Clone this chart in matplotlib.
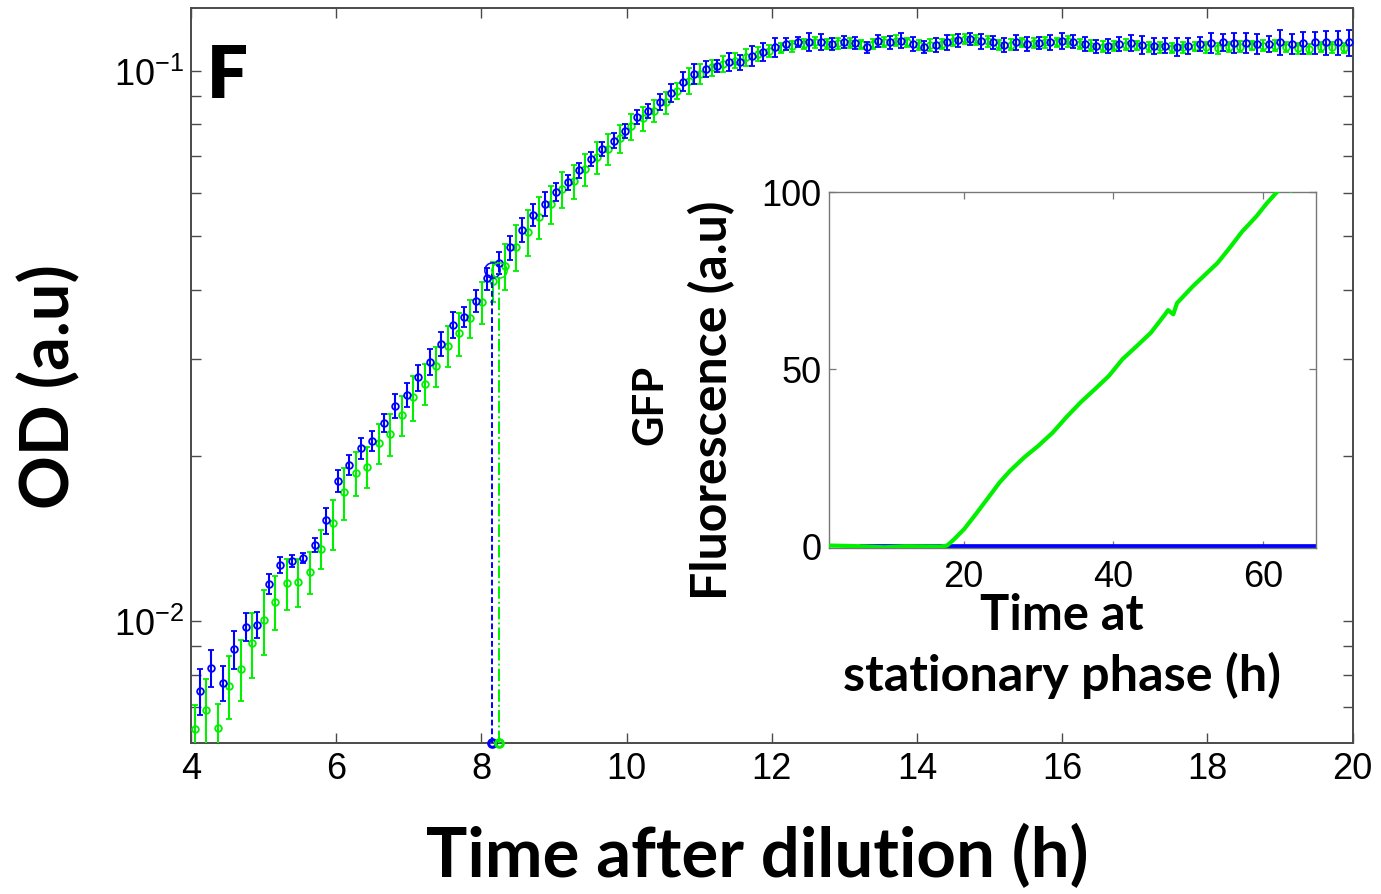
import numpy as np
import matplotlib
matplotlib.use("Agg")
import matplotlib.pyplot as plt
from matplotlib.ticker import LogLocator, NullFormatter, FixedLocator, FixedFormatter

plt.rcParams['font.family'] = ['Liberation Sans', 'DejaVu Sans']
plt.rcParams['mathtext.fontset'] = 'custom'
plt.rcParams['mathtext.rm'] = 'Liberation Sans'
plt.rcParams['mathtext.default'] = 'regular'

# ---------------- data ----------------
# sampling grid (h after dilution)
dt = 0.1583
blue_t0 = 4.125
green_t0 = 4.052

blue_od = [0.00748, 0.00823, 0.00773, 0.00891, 0.00978, 0.00986, 0.01169, 0.01267, 0.01287, 0.01301,
           0.01374, 0.01525, 0.01798, 0.01923, 0.02064, 0.02126, 0.02295, 0.02464, 0.02576, 0.02775,
           0.02962, 0.03189, 0.03453, 0.03575, 0.03818, 0.04197, 0.04474, 0.04778, 0.05143, 0.05468,
           0.05726, 0.06014, 0.06270, 0.06601, 0.06911, 0.07207, 0.07462, 0.07780, 0.08229, 0.08438,
           0.08761, 0.09099, 0.09550, 0.09862, 0.1007, 0.1021, 0.1036, 0.1036, 0.1065, 0.1083,
           0.1103, 0.1118, 0.1126, 0.1129, 0.1129, 0.1118, 0.1127, 0.1123, 0.1103, 0.1134,
           0.1126, 0.1134, 0.1118, 0.1106, 0.1115, 0.1126, 0.1137, 0.1142, 0.1131, 0.1126,
           0.1115, 0.1126, 0.1118, 0.1123, 0.1126, 0.1134, 0.1129, 0.1118, 0.1108, 0.1111,
           0.1118, 0.1123, 0.1115, 0.1111, 0.1111, 0.1106, 0.1111, 0.1118, 0.1122, 0.1126,
           0.1123, 0.1122, 0.1118, 0.1118, 0.1126, 0.1118, 0.1123, 0.1126, 0.1126, 0.1126, 0.1126]
blue_err = [0.00072, 0.00062, 0.00058, 0.00071, 0.00059, 0.00054, 0.00049, 0.00042, 0.00032, 0.00027,
            0.00040, 0.00083, 0.00083, 0.00080, 0.00091, 0.00089, 0.00086, 0.00124, 0.00129, 0.00151,
            0.00161, 0.00160, 0.00188, 0.00149, 0.00176, 0.00193, 0.00206, 0.00240, 0.00258, 0.00252,
            0.00287, 0.00226, 0.00209, 0.00207, 0.00202, 0.00211, 0.00234, 0.00228, 0.00241, 0.00247,
            0.00293, 0.00342, 0.00379, 0.00412, 0.00336, 0.00256, 0.00390, 0.00325, 0.00445, 0.00407,
            0.00438, 0.00281, 0.00235, 0.00425, 0.00377, 0.00281, 0.0028, 0.0028, 0.0026, 0.0028,
            0.0030, 0.0036, 0.0032, 0.0028, 0.0033, 0.0035, 0.0031, 0.0029, 0.0034, 0.0030,
            0.0033, 0.0036, 0.0032, 0.0030, 0.0034, 0.0037, 0.0031, 0.0033, 0.0030, 0.0032,
            0.0033, 0.0037, 0.0042, 0.0037, 0.0035, 0.0042, 0.0037, 0.0033, 0.0047, 0.0042,
            0.0047, 0.0047, 0.0047, 0.0037, 0.0059, 0.0047, 0.0052, 0.0052, 0.0056, 0.0056, 0.0061]

green_od = [0.00637, 0.00691, 0.00640, 0.00764, 0.00819, 0.00912, 0.01004, 0.01085, 0.01172, 0.01180,
            0.01227, 0.01353, 0.01507, 0.01715, 0.01859, 0.01906, 0.02108, 0.02189, 0.02372, 0.02551,
            0.02698, 0.02912, 0.03167, 0.03336, 0.03551, 0.03798, 0.04155, 0.04424, 0.04778, 0.05088,
            0.05416, 0.05726, 0.06097, 0.06297, 0.06628, 0.06961, 0.07207, 0.07537, 0.07925, 0.08195,
            0.08459, 0.08761, 0.09197, 0.09592, 0.09862, 0.1014, 0.1028, 0.1043, 0.1058, 0.1072,
            0.1087, 0.1099, 0.1107, 0.1118, 0.1126, 0.1118, 0.1123, 0.1123, 0.1118, 0.1118,
            0.1129, 0.1134, 0.1126, 0.1115, 0.1115, 0.1118, 0.1134, 0.1142, 0.1137, 0.1131,
            0.1115, 0.1115, 0.1126, 0.1123, 0.1126, 0.1126, 0.1131, 0.1118, 0.1111, 0.1106,
            0.1111, 0.1115, 0.1111, 0.1106, 0.1103, 0.1099, 0.1103, 0.1106, 0.1103, 0.1099,
            0.1103, 0.1106, 0.1111, 0.1111, 0.1111, 0.1106, 0.1099, 0.1095, 0.1106, 0.1103, 0.1099]
green_err = [0.00067, 0.00095, 0.00067, 0.00099, 0.00104, 0.00124, 0.00134, 0.00122, 0.00125, 0.00118,
             0.00108, 0.00110, 0.00157, 0.00186, 0.00171, 0.00163, 0.00176, 0.00192, 0.00198, 0.00240,
             0.00231, 0.00243, 0.00265, 0.00300, 0.00282, 0.00333, 0.00347, 0.00425, 0.00459, 0.00489,
             0.00476, 0.00455, 0.00459, 0.00448, 0.00443, 0.00466, 0.00452, 0.00441, 0.00430, 0.00411,
             0.00389, 0.00403, 0.00307, 0.00521, 0.00412, 0.00339, 0.00343, 0.00327, 0.00376, 0.00314,
             0.0026, 0.0024, 0.0027, 0.0023, 0.0025, 0.0022, 0.0026, 0.0024, 0.0021, 0.0025,
             0.0023, 0.0026, 0.0022, 0.0024, 0.0027, 0.0023, 0.0025, 0.0022, 0.0024, 0.0026,
             0.0023, 0.0025, 0.0022, 0.0024, 0.0026, 0.0023, 0.0025, 0.0022, 0.0024, 0.0026,
             0.0023, 0.0025, 0.0022, 0.0024, 0.0026, 0.0023, 0.0025, 0.0022, 0.0024, 0.0026,
             0.0023, 0.0025, 0.0022, 0.0024, 0.0026, 0.0023, 0.0025, 0.0022, 0.0024, 0.0026, 0.0023]

# time at which OD crosses the stationary threshold
thresh_od = 0.0434
blue_thresh_t = 8.143
green_thresh_t = 8.248

# inset: GFP fluorescence vs time at stationary phase
gfp_time = [2.1, 6.1, 9.4, 12.2, 16.9, 17.8, 18.7, 20.1, 21.5, 23.0, 24.8, 26.2, 28.1, 30.0, 31.9,
            33.7, 35.6, 37.5, 39.4, 41.2, 43.1, 45.0, 46.9, 47.3, 48.0, 48.5, 50.6, 52.5, 53.9,
            55.5, 57.2, 59.1, 60.5, 61.9, 63.0, 63.7, 64.5]
gfp_green = [0, -0.2, -0.5, -0.2, -0.3, 0, 1.7, 4.7, 8.5, 12.7, 17.8, 21.1, 24.9, 28.2, 31.9,
             36.2, 40.4, 44.1, 47.9, 52.6, 56.3, 60.1, 65.3, 66.5, 65.3, 68.5, 73.2, 77.0, 79.8,
             84.0, 88.7, 93.0, 96.7, 100.0, 101.5, 100.2, 102.5]
gfp_blue_time = [6.0, 67.0]
gfp_blue = [0.0, 0.0]

blue_t = blue_t0 + dt * np.arange(len(blue_od))
green_t = green_t0 + dt * np.arange(len(green_od))

BLUE = '#0000ff'
GREEN = '#00f000'
SPINE = '#4a4a4a'

W, H = 1381, 895
fig = plt.figure(figsize=(W / 100, H / 100), dpi=100)

# ---------------- main axes ----------------
ax = fig.add_axes([190.9 / W, 1 - 744 / H, (1352.5 - 190.9) / W, (744 - 9) / H])
ax.set_yscale('log')
ax.set_xlim(4, 20)
ax.set_ylim(0.00601, 0.130)

ax.errorbar(green_t, green_od, yerr=green_err, fmt='o', ms=4.8, mfc='none', mec=GREEN, mew=1.3,
            ecolor=GREEN, elinewidth=1.5, capsize=2.4, capthick=1.5, zorder=3)
ax.errorbar(blue_t, blue_od, yerr=blue_err, fmt='o', ms=4.8, mfc='none', mec=BLUE, mew=1.3,
            ecolor=BLUE, elinewidth=1.5, capsize=2.4, capthick=1.5, zorder=4)

ybot = ax.get_ylim()[0]
ax.plot([blue_thresh_t, blue_thresh_t], [ybot, thresh_od], ls=(0, (3, 1.5)), color=BLUE, lw=1.4, zorder=5)
ax.plot([green_thresh_t, green_thresh_t], [ybot, thresh_od], ls='-.', color=GREEN, lw=1.4, zorder=5)
ax.plot([blue_thresh_t], [thresh_od], 'o', ms=11, mfc='none', mec=BLUE, mew=1.1, zorder=6)
ax.plot([green_thresh_t], [thresh_od], 'o', ms=11, mfc='none', mec=GREEN, mew=1.1, zorder=6)
ax.plot([blue_thresh_t], [ybot], 'o', ms=5.5, mfc='none', mec=BLUE, mew=2.2, zorder=7, clip_on=False)
ax.plot([green_thresh_t], [ybot], 'o', ms=5.5, mfc='none', mec=GREEN, mew=2.2, zorder=7, clip_on=False)

ax.set_xticks([4, 6, 8, 10, 12, 14, 16, 18, 20])
ax.yaxis.set_major_locator(FixedLocator([0.01, 0.1]))
ax.yaxis.set_major_formatter(FixedFormatter([r'$10^{-2}$', r'$10^{-1}$']))
ax.yaxis.set_minor_locator(LogLocator(base=10, subs=np.arange(2, 10)))
ax.yaxis.set_minor_formatter(NullFormatter())
ax.tick_params(which='both', direction='in', top=True, right=True, length=7, width=1.0,
               color=SPINE, labelcolor='black', labelsize=26)
ax.tick_params(axis='x', pad=6)
ax.tick_params(axis='y', pad=5)
for s in ax.spines.values():
    s.set_color(SPINE)
    s.set_linewidth(1.4)

# ---------------- inset ----------------
axin = fig.add_axes([828.8 / W, 1 - 549 / H, (1315.6 - 828.8) / W, (549 - 192.5) / H])
axin.plot(gfp_blue_time, gfp_blue, color=BLUE, lw=3.4, solid_capstyle='butt', zorder=2)
axin.plot(gfp_time, gfp_green, color=GREEN, lw=3.0, zorder=3)
axin.set_xlim(2, 67)
axin.set_ylim(-0.7, 100)
axin.set_xticks([20, 40, 60])
axin.set_yticks([0, 50, 100])
axin.tick_params(which='both', direction='in', top=True, right=True, length=5, width=0.9,
                 color='#777777', labelcolor='black', labelsize=26)
axin.tick_params(axis='x', pad=8)
axin.tick_params(axis='y', pad=5)
for s in axin.spines.values():
    s.set_color('#777777')
    s.set_linewidth(1.0)

# ---------------- labels ----------------
LABEL_FONT = ['Lato', 'DejaVu Sans']
renderer = fig.canvas.get_renderer()


def fitted_text(xc, yc, s, target, rotation=0, size0=40):
    t = fig.text(xc / W, 1 - yc / H, s, ha='center', va='center', rotation=rotation,
                 fontsize=size0, fontweight='bold', family=LABEL_FONT)
    bb = t.get_window_extent(renderer)
    cur = bb.width if rotation == 0 else bb.height
    t.set_fontsize(size0 * target / cur)
    return t


fitted_text(757, 857, 'Time after dilution (h)', 663)
fitted_text(50, 387, 'OD (a.u)', 245, rotation=90)
fitted_text(1062, 615, 'Time at', 163)
fitted_text(1062, 675, 'stationary phase (h)', 437)
fitted_text(650, 405, 'GFP', 80, rotation=90)
fitted_text(712, 400, 'Fluorescence (a.u)', 400, rotation=90)
fig.text(227 / W, 1 - 77 / H, 'F', ha='center', va='center', fontsize=52, fontweight='heavy',
         family=LABEL_FONT)

fig.savefig('out.png', dpi=100)
